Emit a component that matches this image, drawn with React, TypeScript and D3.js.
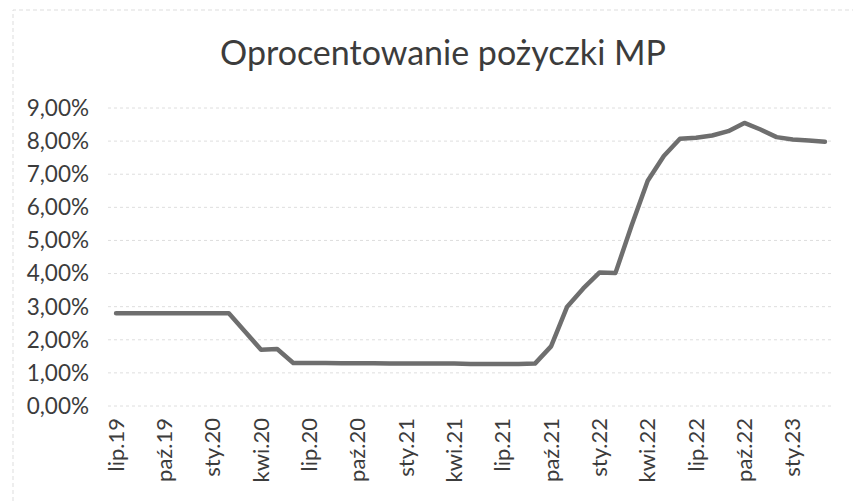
import React, { useEffect, useRef } from "react";
import * as d3 from "d3";

// months Jul 2019 .. Mar 2023
const months = [
  "lip.19", "sie.19", "wrz.19", "paź.19", "lis.19", "gru.19",
  "sty.20", "lut.20", "mar.20", "kwi.20", "maj.20", "cze.20",
  "lip.20", "sie.20", "wrz.20", "paź.20", "lis.20", "gru.20",
  "sty.21", "lut.21", "mar.21", "kwi.21", "maj.21", "cze.21",
  "lip.21", "sie.21", "wrz.21", "paź.21", "lis.21", "gru.21",
  "sty.22", "lut.22", "mar.22", "kwi.22", "maj.22", "cze.22",
  "lip.22", "sie.22", "wrz.22", "paź.22", "lis.22", "gru.22",
  "sty.23", "lut.23", "mar.23",
];

// interest rate in %
const rates = [
  2.8, 2.8, 2.8, 2.8, 2.8, 2.8,
  2.8, 2.8, 2.25, 1.7, 1.72, 1.3,
  1.3, 1.3, 1.29, 1.29, 1.29, 1.28,
  1.28, 1.28, 1.28, 1.28, 1.27, 1.27,
  1.27, 1.27, 1.28, 1.8, 3.0, 3.55,
  4.03, 4.02, 5.45, 6.8, 7.55, 8.07,
  8.1, 8.17, 8.3, 8.55, 8.35, 8.12,
  8.05, 8.02, 7.98,
];

const yTicks = [0, 1, 2, 3, 4, 5, 6, 7, 8, 9];

const title = "Oprocentowanie pożyczki MP";
const font = "Lato, 'Open Sans', sans-serif";

export default function App() {
  const ref = useRef<SVGSVGElement>(null);

  useEffect(() => {
    const svg = d3.select(ref.current);
    svg.selectAll("*").remove();

    const x = d3.scaleBand().domain(months).range([108, 833]).padding(0);
    const y = d3.scaleLinear().domain([0, 9]).range([406, 108]);
    const cx = (m: string) => (x(m) as number) + x.bandwidth() / 2;

    // faint chart border (scanned)
    svg
      .append("path")
      .attr("d", "M13,501 L13,10 L853,10")
      .attr("fill", "none")
      .attr("stroke", "#dddddd")
      .attr("stroke-dasharray", "4 3");

    // gridlines
    svg
      .append("g")
      .selectAll("line")
      .data(yTicks)
      .enter()
      .append("line")
      .attr("x1", 108)
      .attr("x2", 833)
      .attr("y1", (d) => y(d))
      .attr("y2", (d) => y(d))
      .attr("stroke", "#dedede")
      .attr("stroke-width", 1)
      .attr("stroke-dasharray", "3 3");

    // y labels
    svg
      .append("g")
      .selectAll("text")
      .data(yTicks)
      .enter()
      .append("text")
      .attr("x", 89)
      .attr("y", (d) => y(d))
      .attr("dy", "0.35em")
      .attr("text-anchor", "end")
      .style("font-family", font)
      .style("font-size", "22.5px")
      .style("fill", "#3c3c3c")
      .text((d) => d3.format(".2f")(d).replace(".", ",") + "%");

    // x labels every 3rd month
    svg
      .append("g")
      .selectAll("text")
      .data(months.filter((_, i) => i % 3 === 0))
      .enter()
      .append("text")
      .attr("transform", (d) => `translate(${cx(d)},418) rotate(-90)`)
      .attr("dy", "0.35em")
      .attr("text-anchor", "end")
      .style("font-family", font)
      .style("font-size", "22px")
      .style("fill", "#3c3c3c")
      .text((d) => d);

    // line
    const line = d3
      .line<number>()
      .x((_, i) => cx(months[i]))
      .y((d) => y(d));

    svg
      .append("path")
      .datum(rates)
      .attr("d", line)
      .attr("fill", "none")
      .attr("stroke", "#6e6e6e")
      .attr("stroke-width", 4.5)
      .attr("stroke-linejoin", "round")
      .attr("stroke-linecap", "round");

    // title
    svg
      .append("text")
      .attr("x", 443)
      .attr("y", 65)
      .attr("text-anchor", "middle")
      .style("font-family", font)
      .style("font-size", "34px")
      .style("fill", "#3c3c3c")
      .text(title);
  }, []);

  return (
    <svg
      ref={ref}
      width={853}
      height={501}
      style={{ position: "absolute", left: 0, top: 0, background: "#fff" }}
    />
  );
}
